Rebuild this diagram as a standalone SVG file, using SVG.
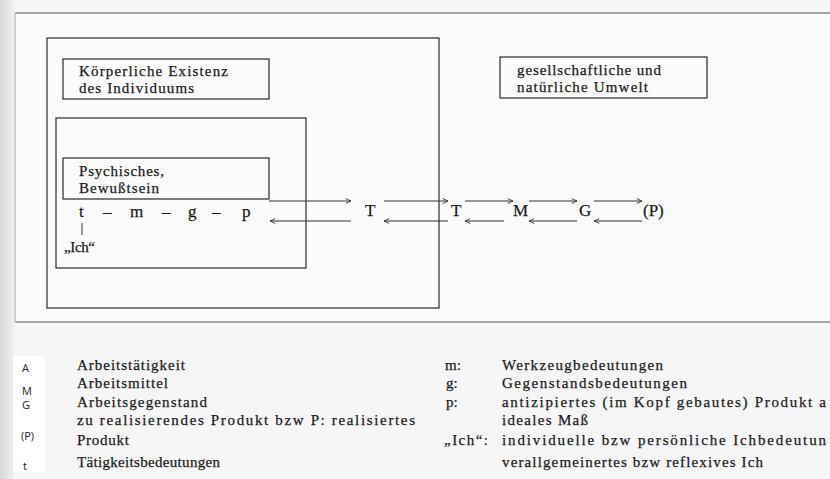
<svg xmlns="http://www.w3.org/2000/svg" width="830" height="479" viewBox="0 0 830 479">
<defs>
<linearGradient id="edge" x1="0" y1="0" x2="1" y2="0">
<stop offset="0" stop-color="#d9d9d9"/>
<stop offset="1" stop-color="#f0f0f0"/>
</linearGradient>
<marker id="ah" viewBox="0 0 8 8" refX="7.5" refY="4" markerWidth="7" markerHeight="7" orient="auto" markerUnits="userSpaceOnUse">
<path d="M1.5,1.2 L7.5,4 L1.5,6.8" fill="none" stroke="#333" stroke-width="1"/>
</marker>
<style>
.t{font-family:"Liberation Serif","Times New Roman",serif;fill:#1c1c1c;stroke:#1c1c1c;stroke-width:0.25}
.b17{font-size:17px}
.b15{font-size:15px}
.box{fill:none;stroke:#2a2a2a;stroke-width:1.2}
.arr{fill:none;stroke:#333;stroke-width:1;marker-end:url(#ah)}
.lbl{font-family:"Open Sans","Liberation Sans",sans-serif;font-size:11px;fill:#222}
</style>
</defs>
<rect x="0" y="0" width="830" height="479" fill="#f6f6f6"/>
<rect x="15" y="13" width="815" height="309" fill="#fbfbfb"/>
<rect x="0" y="0" width="14" height="479" fill="url(#edge)"/>

<g id="frame">
<line x1="15" y1="13" x2="830" y2="13" stroke="#555" stroke-width="1.2"/>
<line x1="15" y1="322" x2="830" y2="322" stroke="#555" stroke-width="1.2"/>
<line x1="15" y1="13" x2="15" y2="322" stroke="#aaa" stroke-width="1"/>
</g>

<g id="koerper">
<rect class="box" x="47" y="38" width="392" height="270"/>
</g>
<g id="koerper-label">
<rect class="box" x="63" y="59" width="206" height="40"/>
<text class="t b15" x="79" y="76" textLength="149" lengthAdjust="spacing">Körperliche Existenz</text>
<text class="t b15" x="79" y="93" textLength="115" lengthAdjust="spacing">des Individuums</text>
</g>

<g id="psychisch">
<rect class="box" x="56" y="118" width="250" height="150"/>
</g>
<g id="psychisch-label">
<rect class="box" x="63" y="158" width="206" height="41"/>
<text class="t b15" x="79" y="176" textLength="85" lengthAdjust="spacing">Psychisches,</text>
<text class="t b15" x="79" y="193" textLength="80" lengthAdjust="spacing">Bewußtsein</text>
</g>

<g id="bedeutungen">
<text class="t b17" x="79" y="217">t</text>
<text class="t b17" x="103" y="217">–</text>
<text class="t b17" x="130" y="217">m</text>
<text class="t b17" x="162" y="217">–</text>
<text class="t b17" x="188" y="217">g</text>
<text class="t b17" x="212" y="217">–</text>
<text class="t b17" x="242" y="217">p</text>
<line x1="82" y1="223" x2="82" y2="235" stroke="#333" stroke-width="1"/>
<text class="t b15" x="64" y="252" textLength="31" lengthAdjust="spacing">„Ich“</text>
</g>

<g id="umwelt">
<rect class="box" x="500" y="57" width="207" height="41"/>
<text class="t b15" x="517" y="75" textLength="144" lengthAdjust="spacing">gesellschaftliche und</text>
<text class="t b15" x="517" y="92" textLength="131" lengthAdjust="spacing">natürliche Umwelt</text>
</g>

<g id="node-T1"><text class="t b17" x="365" y="216">T</text></g>
<g id="node-T2"><text class="t b17" x="451" y="216">T</text></g>
<g id="node-M"><text class="t b17" x="513" y="216">M</text></g>
<g id="node-G"><text class="t b17" x="579" y="216">G</text></g>
<g id="node-P"><text class="t b17" x="643" y="216">(P)</text></g>

<g id="connectors">
<line class="arr" x1="269" y1="201" x2="351" y2="201"/>
<line class="arr" x1="351" y1="221" x2="270" y2="221"/>
<line class="arr" x1="384" y1="201" x2="448" y2="201"/>
<line class="arr" x1="448" y1="221" x2="384" y2="221"/>
<line class="arr" x1="465" y1="201" x2="513" y2="201"/>
<line class="arr" x1="504" y1="221" x2="465" y2="221"/>
<line class="arr" x1="529" y1="201" x2="577" y2="201"/>
<line class="arr" x1="577" y1="221" x2="529" y2="221"/>
<line class="arr" x1="594" y1="201" x2="642" y2="201"/>
<line class="arr" x1="642" y1="221" x2="594" y2="221"/>
</g>

<g id="legend-left">
<rect x="13" y="356" width="32" height="116" fill="#ffffff"/>
<text class="lbl" x="22" y="372">A</text>
<text class="lbl" x="22" y="395">M</text>
<text class="lbl" x="22" y="409">G</text>
<text class="lbl" x="21" y="440">(P)</text>
<text class="lbl" x="23" y="470">t</text>
<text class="t b15" x="77" y="370" textLength="108" lengthAdjust="spacing">Arbeitstätigkeit</text>
<text class="t b15" x="77" y="388" textLength="91" lengthAdjust="spacing">Arbeitsmittel</text>
<text class="t b15" x="77" y="407" textLength="130" lengthAdjust="spacing">Arbeitsgegenstand</text>
<text class="t b15" x="77" y="425" textLength="338" lengthAdjust="spacing">zu realisierendes Produkt bzw  P: realisiertes</text>
<text class="t b15" x="77" y="445" textLength="52" lengthAdjust="spacing">Produkt</text>
<text class="t b15" x="77" y="467" textLength="143" lengthAdjust="spacing">Tätigkeitsbedeutungen</text>
</g>

<g id="legend-right">
<text class="t b15" x="445" y="370">m:</text>
<text class="t b15" x="446" y="388">g:</text>
<text class="t b15" x="446" y="407">p:</text>
<text class="t b15" x="444" y="445" textLength="44" lengthAdjust="spacing">„Ich“:</text>
<text class="t b15" x="502" y="370" textLength="161" lengthAdjust="spacing">Werkzeugbedeutungen</text>
<text class="t b15" x="502" y="388" textLength="185" lengthAdjust="spacing">Gegenstandsbedeutungen</text>
<text class="t b15" x="502" y="407" textLength="324" lengthAdjust="spacing">antizipiertes (im Kopf gebautes) Produkt a</text>
<text class="t b15" x="502" y="425" textLength="86" lengthAdjust="spacing">ideales Maß</text>
<text class="t b15" x="502" y="445" textLength="324" lengthAdjust="spacing">individuelle bzw  persönliche Ichbedeutun</text>
<text class="t b15" x="502" y="467" textLength="261" lengthAdjust="spacing">verallgemeinertes bzw  reflexives Ich</text>
</g>
</svg>
